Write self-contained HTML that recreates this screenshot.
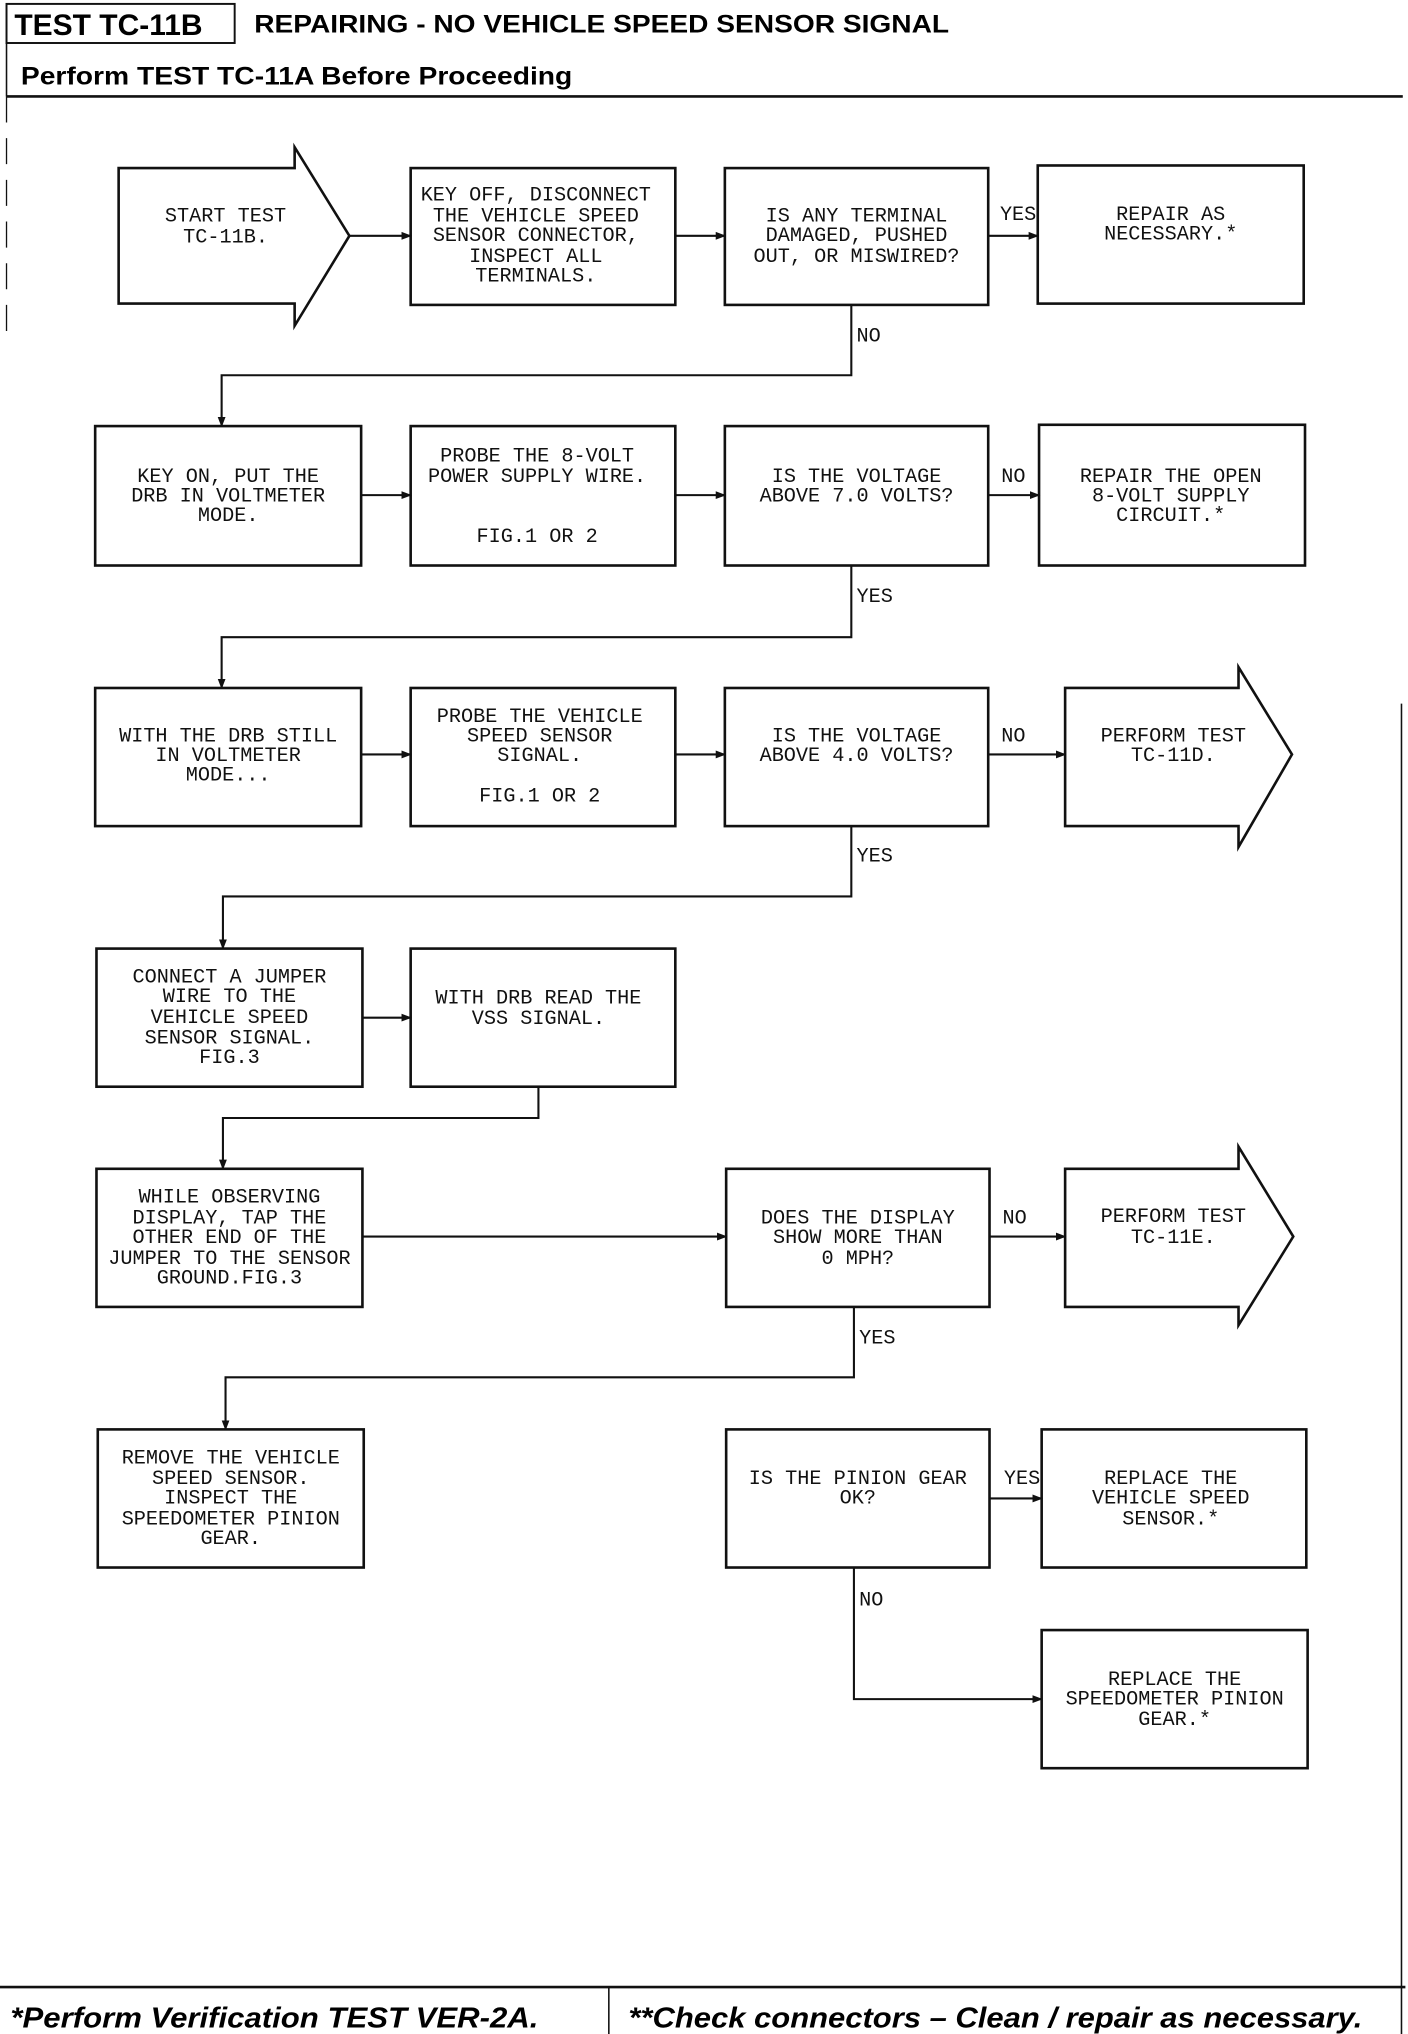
<!DOCTYPE html>
<html><head><meta charset="utf-8"><style>
html,body{margin:0;padding:0;background:#fff;}
svg{display:block;}
.t{font-family:"Liberation Mono",monospace;font-size:15.5px;fill:#111;text-anchor:middle;}
.l{font-family:"Liberation Mono",monospace;font-size:15.5px;fill:#111;}
.b{fill:#fff;stroke:#111;stroke-width:2;}
.c{fill:none;stroke:#111;stroke-width:1.6;}
</style></head><body>
<svg width="1408" height="2034" viewBox="0 0 1080 1561" preserveAspectRatio="none" xmlns="http://www.w3.org/2000/svg">
<defs><marker id="a" markerWidth="8" markerHeight="8" refX="7" refY="4" orient="auto" markerUnits="userSpaceOnUse"><path d="M0,1 L8,4 L0,7 Z" fill="#111"/></marker></defs>
<!-- header -->
<rect x="5" y="3" width="175" height="30" fill="none" stroke="#111" stroke-width="1.5"/>
<text x="11" y="27" style="font-family:'Liberation Sans',sans-serif;font-weight:bold;font-size:23px">TEST TC-11B</text>
<text x="195" y="25" style="font-family:'Liberation Sans',sans-serif;font-weight:bold;font-size:19px" textLength="533" lengthAdjust="spacingAndGlyphs">REPAIRING - NO VEHICLE SPEED SENSOR SIGNAL</text>
<text x="16" y="65" style="font-family:'Liberation Sans',sans-serif;font-weight:bold;font-size:19px" textLength="423" lengthAdjust="spacingAndGlyphs">Perform TEST TC-11A Before Proceeding</text>
<line x1="5" y1="33" x2="5" y2="74" stroke="#111" stroke-width="1.2"/>
<line x1="5" y1="74" x2="1076" y2="74" stroke="#111" stroke-width="2"/>
<line x1="5" y1="74" x2="5" y2="260" stroke="#111" stroke-width="1" stroke-dasharray="20,12"/>
<line x1="1075" y1="540" x2="1075" y2="1561" stroke="#111" stroke-width="1.2"/>
<!-- footer -->
<line x1="0" y1="1525" x2="1078" y2="1525" stroke="#111" stroke-width="2"/>
<line x1="467" y1="1525" x2="467" y2="1561" stroke="#111" stroke-width="1.2"/>
<text x="8" y="1556" style="font-family:'Liberation Sans',sans-serif;font-weight:bold;font-style:italic;font-size:22px" textLength="405" lengthAdjust="spacingAndGlyphs">*Perform Verification TEST VER-2A.</text>
<text x="482" y="1556" style="font-family:'Liberation Sans',sans-serif;font-weight:bold;font-style:italic;font-size:22px" textLength="563" lengthAdjust="spacingAndGlyphs">**Check connectors – Clean / repair as necessary.</text>

<!-- row 1 -->
<path class="b" d="M91,129 H226 V113 L268,181 L226,250 V233 H91 Z"/>
<text class="t" x="173" y="170">START TEST</text><text class="t" x="173" y="186">TC-11B.</text>
<rect class="b" x="315" y="129" width="203" height="105"/>
<text class="t" x="411" y="154">KEY OFF, DISCONNECT</text><text class="t" x="411" y="170">THE VEHICLE SPEED</text><text class="t" x="411" y="185">SENSOR CONNECTOR,</text><text class="t" x="411" y="201">INSPECT ALL</text><text class="t" x="411" y="216">TERMINALS.</text>
<rect class="b" x="556" y="129" width="202" height="105"/>
<text class="t" x="657" y="170">IS ANY TERMINAL</text><text class="t" x="657" y="185">DAMAGED, PUSHED</text><text class="t" x="657" y="201">OUT, OR MISWIRED?</text>
<rect class="b" x="796" y="127" width="204" height="106"/>
<text class="t" x="898" y="169">REPAIR AS</text><text class="t" x="898" y="184">NECESSARY.*</text>
<line class="c" x1="268" y1="181" x2="315" y2="181" marker-end="url(#a)"/>
<line class="c" x1="518" y1="181" x2="556" y2="181" marker-end="url(#a)"/>
<line class="c" x1="758" y1="181" x2="796" y2="181" marker-end="url(#a)"/>
<text class="l" x="767" y="169">YES</text>
<polyline class="c" points="653,234 653,288 170,288 170,327" marker-end="url(#a)"/>
<text class="l" x="657" y="262">NO</text>

<!-- row 2 -->
<rect class="b" x="73" y="327" width="204" height="107"/>
<text class="t" x="175" y="370">KEY ON, PUT THE</text><text class="t" x="175" y="385">DRB IN VOLTMETER</text><text class="t" x="175" y="400">MODE.</text>
<rect class="b" x="315" y="327" width="203" height="107"/>
<text class="t" x="412" y="354">PROBE THE 8-VOLT</text><text class="t" x="412" y="370">POWER SUPPLY WIRE.</text><text class="t" x="412" y="416">FIG.1 OR 2</text>
<rect class="b" x="556" y="327" width="202" height="107"/>
<text class="t" x="657" y="370">IS THE VOLTAGE</text><text class="t" x="657" y="385">ABOVE 7.0 VOLTS?</text>
<rect class="b" x="797" y="326" width="204" height="108"/>
<text class="t" x="898" y="370">REPAIR THE OPEN</text><text class="t" x="898" y="385">8-VOLT SUPPLY</text><text class="t" x="898" y="400">CIRCUIT.*</text>
<line class="c" x1="277" y1="380" x2="315" y2="380" marker-end="url(#a)"/>
<line class="c" x1="518" y1="380" x2="556" y2="380" marker-end="url(#a)"/>
<line class="c" x1="758" y1="380" x2="797" y2="380" marker-end="url(#a)"/>
<text class="l" x="768" y="370">NO</text>
<polyline class="c" points="653,434 653,489 170,489 170,528" marker-end="url(#a)"/>
<text class="l" x="657" y="462">YES</text>

<!-- row 3 -->
<rect class="b" x="73" y="528" width="204" height="106"/>
<text class="t" x="175" y="569">WITH THE DRB STILL</text><text class="t" x="175" y="584">IN VOLTMETER</text><text class="t" x="175" y="599">MODE...</text>
<rect class="b" x="315" y="528" width="203" height="106"/>
<text class="t" x="414" y="554">PROBE THE VEHICLE</text><text class="t" x="414" y="569">SPEED SENSOR</text><text class="t" x="414" y="584">SIGNAL.</text><text class="t" x="414" y="615">FIG.1 OR 2</text>
<rect class="b" x="556" y="528" width="202" height="106"/>
<text class="t" x="657" y="569">IS THE VOLTAGE</text><text class="t" x="657" y="584">ABOVE 4.0 VOLTS?</text>
<path class="b" d="M817,528 H950 V512 L991,579 L950,650 V634 H817 Z"/>
<text class="t" x="900" y="569">PERFORM TEST</text><text class="t" x="900" y="584">TC-11D.</text>
<line class="c" x1="277" y1="579" x2="315" y2="579" marker-end="url(#a)"/>
<line class="c" x1="518" y1="579" x2="556" y2="579" marker-end="url(#a)"/>
<line class="c" x1="758" y1="579" x2="817" y2="579" marker-end="url(#a)"/>
<text class="l" x="768" y="569">NO</text>
<polyline class="c" points="653,634 653,688 171,688 171,728" marker-end="url(#a)"/>
<text class="l" x="657" y="661">YES</text>

<!-- row 4 -->
<rect class="b" x="74" y="728" width="204" height="106"/>
<text class="t" x="176" y="754">CONNECT A JUMPER</text><text class="t" x="176" y="769">WIRE TO THE</text><text class="t" x="176" y="785">VEHICLE SPEED</text><text class="t" x="176" y="801">SENSOR SIGNAL.</text><text class="t" x="176" y="816">FIG.3</text>
<rect class="b" x="315" y="728" width="203" height="106"/>
<text class="t" x="413" y="770">WITH DRB READ THE</text><text class="t" x="413" y="786">VSS SIGNAL.</text>
<line class="c" x1="278" y1="781" x2="315" y2="781" marker-end="url(#a)"/>
<polyline class="c" points="413,834 413,858 171,858 171,897" marker-end="url(#a)"/>

<!-- row 5 -->
<rect class="b" x="74" y="897" width="204" height="106"/>
<text class="t" x="176" y="923">WHILE OBSERVING</text><text class="t" x="176" y="939">DISPLAY, TAP THE</text><text class="t" x="176" y="954">OTHER END OF THE</text><text class="t" x="176" y="970">JUMPER TO THE SENSOR</text><text class="t" x="176" y="985">GROUND.FIG.3</text>
<rect class="b" x="557" y="897" width="202" height="106"/>
<text class="t" x="658" y="939">DOES THE DISPLAY</text><text class="t" x="658" y="954">SHOW MORE THAN</text><text class="t" x="658" y="970">0 MPH?</text>
<path class="b" d="M817,897 H950 V880 L992,949 L950,1017 V1003 H817 Z"/>
<text class="t" x="900" y="938">PERFORM TEST</text><text class="t" x="900" y="954">TC-11E.</text>
<line class="c" x1="278" y1="949" x2="557" y2="949" marker-end="url(#a)"/>
<line class="c" x1="759" y1="949" x2="817" y2="949" marker-end="url(#a)"/>
<text class="l" x="769" y="939">NO</text>
<polyline class="c" points="655,1003 655,1057 173,1057 173,1097" marker-end="url(#a)"/>
<text class="l" x="659" y="1031">YES</text>

<!-- row 6 -->
<rect class="b" x="75" y="1097" width="204" height="106"/>
<text class="t" x="177" y="1123">REMOVE THE VEHICLE</text><text class="t" x="177" y="1139">SPEED SENSOR.</text><text class="t" x="177" y="1154">INSPECT THE</text><text class="t" x="177" y="1170">SPEEDOMETER PINION</text><text class="t" x="177" y="1185">GEAR.</text>
<rect class="b" x="557" y="1097" width="202" height="106"/>
<text class="t" x="658" y="1139">IS THE PINION GEAR</text><text class="t" x="658" y="1154">OK?</text>
<rect class="b" x="799" y="1097" width="203" height="106"/>
<text class="t" x="898" y="1139">REPLACE THE</text><text class="t" x="898" y="1154">VEHICLE SPEED</text><text class="t" x="898" y="1170">SENSOR.*</text>
<line class="c" x1="759" y1="1150" x2="799" y2="1150" marker-end="url(#a)"/>
<text class="l" x="770" y="1139">YES</text>
<polyline class="c" points="655,1203 655,1304 799,1304" marker-end="url(#a)"/>
<text class="l" x="659" y="1232">NO</text>
<rect class="b" x="799" y="1251" width="204" height="106"/>
<text class="t" x="901" y="1293">REPLACE THE</text><text class="t" x="901" y="1308">SPEEDOMETER PINION</text><text class="t" x="901" y="1324">GEAR.*</text>
</svg>
</body></html>
